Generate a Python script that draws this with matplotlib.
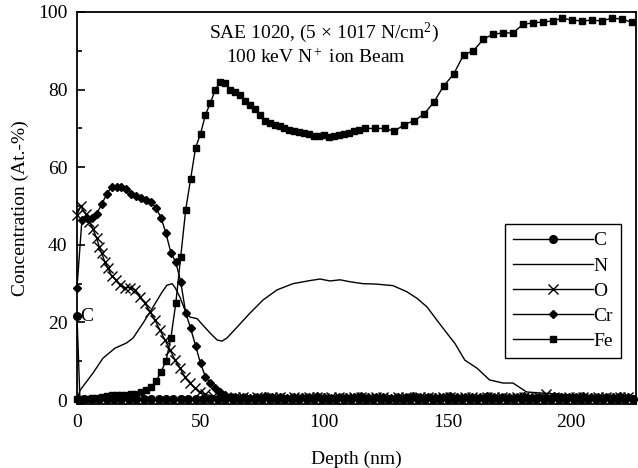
import numpy as np
import matplotlib
matplotlib.use("Agg")
import matplotlib.pyplot as plt

plt.rcParams['font.family'] = ['Liberation Serif', 'DejaVu Serif']
plt.rcParams['mathtext.fontset'] = 'custom'
plt.rcParams['mathtext.rm'] = 'Liberation Serif'
plt.rcParams['mathtext.it'] = 'Liberation Serif:italic'

# ---- data ----
# Fe (squares)
fe_depth = list(range(0, 116, 2)) + [116.5 + 4 * i for i in range(28)]
fe_conc = [0.3, 0.2, 0.3, 0.5, 0.6, 0.7, 1.0, 1.2, 1.3, 1.2,
           1.4, 1.5, 1.6, 2.0, 2.6, 3.5, 4.8, 7.3, 10.0, 16.0,
           25.0, 37.0, 49.0, 57.0, 65.0, 68.6, 73.5, 76.6, 80.0, 82.0,
           81.8, 80.0, 79.5, 78.6, 77.0, 76.0, 75.0, 73.5, 72.0, 71.5,
           71.0, 70.5, 70.0, 69.6, 69.3, 69.0, 68.9, 68.5, 68.1, 68.0,
           68.2, 67.8, 68.0, 68.3, 68.6, 68.9, 69.3, 69.6,
           70.0, 70.0, 70.0, 69.3, 71.0, 72.0, 73.7, 76.8, 81.0, 84.0,
           89.0, 90.0, 93.0, 94.3, 94.6, 94.6, 96.8, 97.2, 97.4, 97.7,
           98.4, 97.9, 97.7, 97.9, 97.7, 98.4, 98.2, 97.4]

# Cr (diamonds)
cr_depth = list(range(0, 64, 2)) + list(range(64, 226, 3))
cr_conc = [29.0, 46.5, 47.0, 47.0, 48.0, 50.5, 53.0, 55.0, 55.0, 54.8,
           54.5, 53.0, 52.6, 52.0, 51.5, 51.0, 49.5, 47.0, 43.0, 38.0,
           35.5, 30.5, 22.5, 18.5, 14.0, 9.5, 6.0, 4.4, 3.0, 2.0,
           1.2, 0.8,
           0.7, 0.9, 0.6, 0.8, 1.0, 0.7, 0.8, 0.6, 0.9, 0.8,
           0.7, 1.0, 0.8, 0.6, 0.9, 0.7, 0.8, 1.0, 0.7, 0.9,
           0.8, 0.6, 0.9, 0.8, 1.0, 0.7, 0.8, 0.9, 0.7, 1.0,
           0.8, 0.9, 0.7, 0.8, 1.0, 0.8, 0.7, 0.9, 0.8, 1.0,
           0.9, 0.7, 0.8, 1.0, 0.8, 0.9, 0.7, 1.0, 0.8, 0.9,
           0.7, 0.8, 1.0, 0.9]

# O (crosses)
o_depth = [0, 1.5, 3.5, 5, 6.5, 8, 9, 10, 11.3, 12.6,
           14, 15.8, 17.4, 19.4, 21.5, 23.5, 25.5, 27.5, 29.6, 31.6,
           33.6, 35.6, 37.6, 39.7, 41.7, 43.7, 45.7, 47.8, 49.8, 52] + list(range(55, 226, 3))
o_conc = [47.7, 50.0, 48.0, 46.0, 44.0, 41.7, 39.5, 37.8, 35.6, 34.0,
          32.0, 31.0, 29.6, 29.0, 29.0, 28.4, 26.6, 25.0, 22.7, 20.6,
          18.0, 15.5, 13.0, 10.3, 8.2, 6.0, 4.4, 3.0, 2.0, 1.5,
          1.0, 0.8, 0.6, 0.9, 0.7, 0.5, 0.8, 0.6, 0.9, 0.7,
          0.6, 0.8, 0.5, 0.7, 0.9, 0.6, 0.8, 0.7, 0.5, 0.8,
          0.9, 0.6, 0.7, 0.8, 0.5, 0.7, 0.9, 0.6, 0.8, 0.7,
          0.6, 0.8, 0.7, 0.5, 0.9, 0.7, 0.6, 0.8, 0.7, 0.9,
          0.6, 0.8, 0.7, 0.5, 0.8, 1.5, 0.7, 0.6, 0.8, 0.7,
          0.9, 0.6, 0.8, 0.7, 0.6, 0.8, 0.7]

# N (plain line)
n_depth = [0, 1.2, 6.5, 10.5, 15.4, 20, 22.7, 26.7, 30.8, 34.4,
           36.4, 38.5, 39.7, 41.7, 43.7, 45.7, 48.6, 51, 54, 56.7,
           58.7, 60.7, 64.8, 70, 75.3, 81, 87.4, 94.3, 98.4, 102.4,
           106.5, 110.5, 115.8, 121, 127.9, 133.6, 137.7, 141.7, 145.7, 149.8,
           153, 157, 162, 167, 172.5, 176.5, 182, 188.7, 195.5, 200.8,
           205, 210, 215, 220, 225]
n_conc = [0.0, 2.5, 7.0, 10.8, 13.4, 14.7, 16.0, 19.8, 24.0, 27.8,
          29.6, 30.0, 29.0, 26.5, 23.2, 21.4, 21.0, 19.3, 17.2, 15.5,
          15.2, 16.0, 18.8, 22.4, 25.8, 28.4, 30.0, 30.8, 31.2, 30.7,
          31.0, 30.5, 30.0, 29.9, 29.5, 27.9, 26.2, 24.0, 20.6, 17.2,
          14.6, 10.3, 8.2, 5.2, 4.4, 4.4, 2.1, 1.8, 1.5, 1.3,
          1.2, 1.1, 1.0, 1.0, 0.9]

# C (circles)
c_depth = [0, 1.2] + list(range(3, 226, 3))
c_conc = [21.6, 0.0,
          0.2, 0.3, 0.2, 0.4, 0.3, 0.3, 0.2, 0.4, 0.3, 0.2,
          0.3, 0.4, 0.3, 0.2, 0.3, 0.3, 0.4, 0.2, 0.3, 0.3,
          0.2, 0.3, 0.4, 0.3, 0.2, 0.3, 0.3, 0.2, 0.4, 0.3,
          0.3, 0.2, 0.3, 0.4, 0.3, 0.2, 0.3, 0.3, 0.2, 0.3,
          0.4, 0.3, 0.2, 0.3, 0.3, 0.4, 0.2, 0.3, 0.3, 0.2,
          0.3, 0.3, 0.4, 0.3, 0.2, 0.3, 0.3, 0.2, 0.3, 0.4,
          0.3, 0.2, 0.3, 0.3, 0.4, 0.3, 0.2, 0.3, 0.3, 0.2,
          0.3, 0.4, 0.3, 0.2, 0.3]

fig = plt.figure(figsize=(6.38, 4.68), dpi=100)
ax = fig.add_axes([77 / 638, 64 / 468, 559 / 638, 392 / 468])

kw = dict(color='black', lw=1.0, clip_on=False)
ax.plot(c_depth, c_conc, marker='o', ms=5.5, label='C', **kw)
ax.plot(n_depth, n_conc, label='N', **kw)
ax.plot(o_depth, o_conc, marker='x', ms=7, mew=1.0, label='O', **kw)
ax.plot(cr_depth, cr_conc, marker='D', ms=4, label='Cr', **kw)
ax.plot(fe_depth, fe_conc, marker='s', ms=5, label='Fe', **kw)

ax.text(1.2, 21.6, 'C', fontsize=14, ha='left', va='center')
ax.text(99.8, 94.6, 'SAE 1020, (5 × 1017 N/cm$^2$)', fontsize=14,
        ha='center', va='center')
ax.text(96.8, 88.2, '100 keV N$^+$ ion Beam', fontsize=14,
        ha='center', va='center')

ax.set_xlim(0, 226.3)
ax.set_ylim(-1, 100)
ax.set_xticks([0, 50, 100, 150, 200])
ax.set_yticks([0, 20, 40, 60, 80, 100])
ax.set_yticks(np.arange(10, 100, 20), minor=True)
ax.tick_params(axis='y', which='major', direction='in', length=5.5, width=1.2, labelsize=14, pad=7)
ax.tick_params(axis='y', which='minor', direction='in', length=3.5, width=1.2)
ax.tick_params(axis='x', direction='in', length=0, labelsize=14, pad=7.5)
for sp in ax.spines.values():
    sp.set_linewidth(1.3)

ax.set_xlabel('Depth (nm)', fontsize=14, labelpad=14)
ax.set_ylabel('Concentration (At.-%)', fontsize=14, labelpad=6.5)

leg = ax.legend(loc='upper left', bbox_to_anchor=(0.766, 0.459), borderaxespad=0,
                fontsize=14, handlelength=4.1, handletextpad=0.05, labelspacing=0.39,
                fancybox=False, edgecolor='black', framealpha=1, numpoints=1,
                borderpad=0.4)
leg.get_frame().set_linewidth(1.0)

fig.savefig('out.png', dpi=100)
